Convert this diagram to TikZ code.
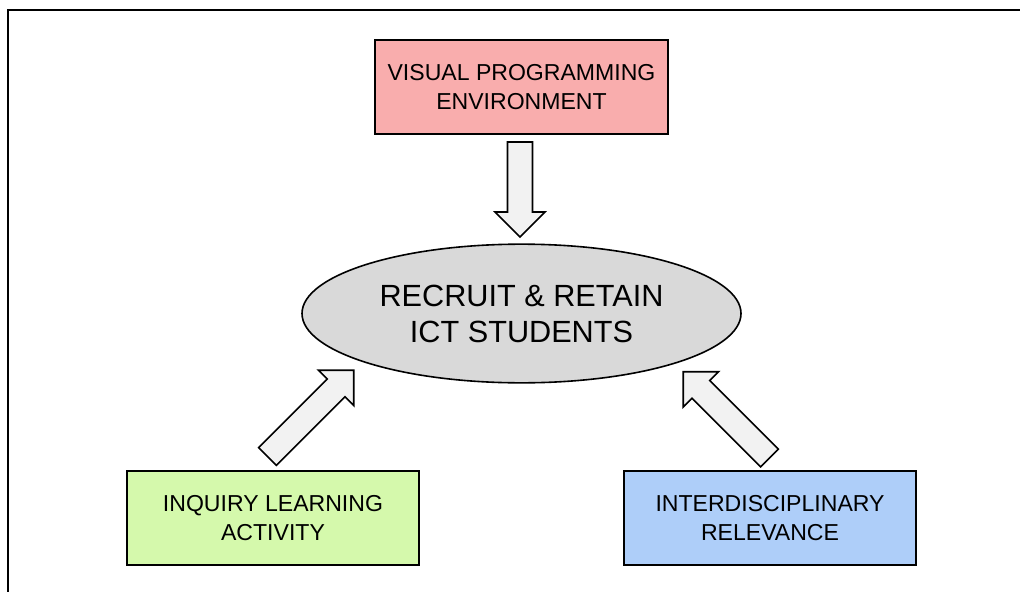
\documentclass[tikz,border=0pt]{standalone}
\usepackage{fontspec}
\setmainfont{Liberation Sans}
\usetikzlibrary{shapes.geometric}
\definecolor{boxpink}{HTML}{F9ADAD}
\definecolor{boxgreen}{HTML}{D5F9AC}
\definecolor{boxblue}{HTML}{AECEF9}
\definecolor{ellgray}{HTML}{D9D9D9}
\definecolor{arrfill}{HTML}{F2F2F2}
\tikzset{
  boxnode/.style={draw=black, line width=1.3pt, rectangle, minimum width=219.5pt, minimum height=70.5pt, inner sep=0pt, align=center, font={\fontsize{17.3}{21.75}\selectfont}},
  ellnode/.style={draw=black, line width=1.2pt, ellipse, fill=ellgray, minimum width=329.25pt, minimum height=104pt, inner sep=0pt, align=center, font={\fontsize{23}{27}\selectfont}},
  arrowstyle/.style={draw=black, line width=1.2pt, fill=arrfill, line join=miter},
  pics/blockarrow/.style={code={
    \draw[arrowstyle] (0,-12.5) -- (#1-25,-12.5) -- (#1-25,-25) -- (#1,0) -- (#1-25,25) -- (#1-25,12.5) -- (0,12.5) -- cycle;}}
}
\begin{document}
\begin{tikzpicture}[x=0.75pt, y=-0.75pt]
\useasboundingbox (0,0) rectangle (1020,592);
% frame
\draw[line width=1.5pt] (8,592) -- (8,10) -- (1020,10);
% nodes
\node[boxnode, fill=boxpink] (vpe) at (521.5,87) {VISUAL PROGRAMMING\\ENVIRONMENT};
\node[ellnode] (goal) at (521.5,313.5) {RECRUIT \& RETAIN\\ICT STUDENTS};
\node[boxnode, fill=boxgreen] (ila) at (273,518) {INQUIRY LEARNING\\ACTIVITY};
\node[boxnode, fill=boxblue] (ir) at (770,518) {INTERDISCIPLINARY\\RELEVANCE};
% arrow tails
\coordinate (t1) at (520,142);
\coordinate (t2) at (267.5,456.5);
\coordinate (t3) at (769.5,458);
\pic[rotate=-90] at (t1) {blockarrow=95};
\pic[rotate=45] at (t2) {blockarrow=122};
\pic[rotate=135] at (t3) {blockarrow=122};
\end{tikzpicture}
\end{document}
